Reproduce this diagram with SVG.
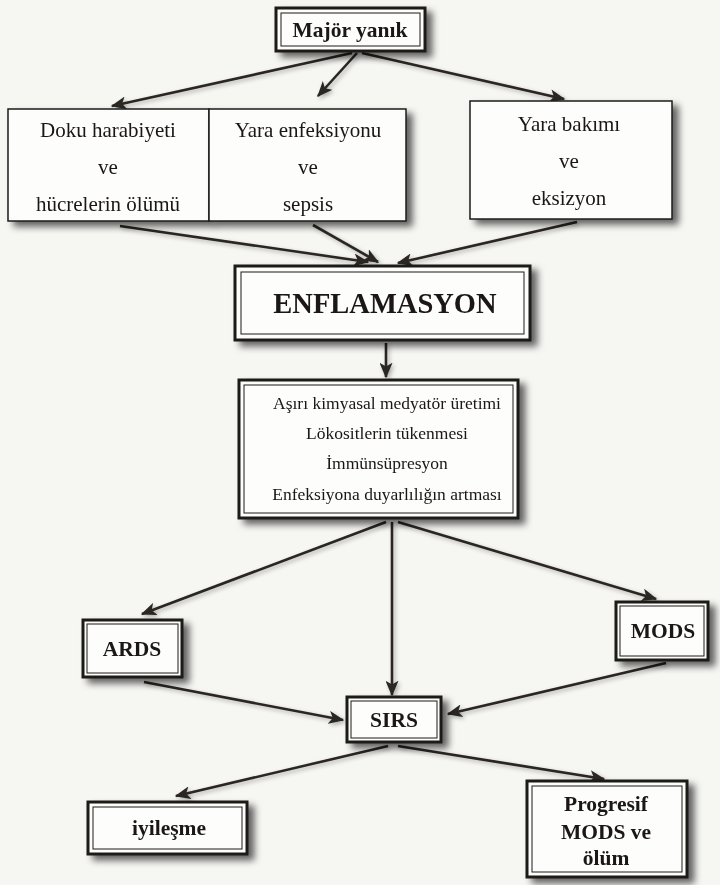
<svg xmlns="http://www.w3.org/2000/svg" width="720" height="885" viewBox="0 0 720 885">
<defs>
<filter id="sh" x="-20%" y="-20%" width="150%" height="160%">
<feGaussianBlur in="SourceAlpha" stdDeviation="3.5"/>
<feOffset dx="6" dy="5" result="b"/>
<feFlood flood-color="#000" flood-opacity="0.6"/>
<feComposite in2="b" operator="in"/>
<feMerge><feMergeNode/><feMergeNode in="SourceGraphic"/></feMerge>
</filter>
<filter id="lsh" x="-10%" y="-30%" width="120%" height="160%">
<feGaussianBlur in="SourceAlpha" stdDeviation="2"/>
<feOffset dx="2" dy="2" result="b"/>
<feFlood flood-color="#000" flood-opacity="0.3"/>
<feComposite in2="b" operator="in"/>
<feMerge><feMergeNode/><feMergeNode in="SourceGraphic"/></feMerge>
</filter>
<marker id="ah" viewBox="0 0 12 10" refX="11" refY="5" markerWidth="6" markerHeight="5" orient="auto" markerUnits="strokeWidth">
<path d="M0,0 L12,5 L0,10 L3,5 Z" fill="#2b2622"/>
</marker>
</defs>
<style>
.bx{fill:#fdfdfc;stroke:#1e1b18;stroke-width:1.5}
.ob{fill:#fdfdfc;stroke:#1e1b18;stroke-width:3}
.ib{fill:none;stroke:#1e1b18;stroke-width:1}
.t{font-family:"Liberation Serif","Times New Roman",serif;fill:#1a1714;text-anchor:middle}
.r{font-size:21px}
.s{font-size:17.5px}
.b{font-weight:bold;font-size:21.5px}
.c{stroke:#2b2622;stroke-width:2.6;fill:none;marker-end:url(#ah)}
</style>
<rect width="720" height="885" fill="#f6f6f3"/>
<g id="connectors" filter="url(#lsh)">
<line class="c" x1="352" y1="53" x2="112" y2="106"/>
<line class="c" x1="357" y1="53" x2="318" y2="96"/>
<line class="c" x1="362" y1="53" x2="564" y2="99"/>
<line class="c" x1="120" y1="226" x2="368" y2="262"/>
<line class="c" x1="313" y1="225" x2="378" y2="262"/>
<line class="c" x1="577" y1="222" x2="398" y2="263"/>
<line class="c" x1="386" y1="343" x2="386" y2="377"/>
<line class="c" x1="386" y1="522" x2="142" y2="614"/>
<line class="c" x1="392" y1="522" x2="392" y2="695"/>
<line class="c" x1="398" y1="522" x2="656" y2="599"/>
<line class="c" x1="144" y1="682" x2="343" y2="720"/>
<line class="c" x1="666" y1="663" x2="448" y2="714"/>
<line class="c" x1="388" y1="746" x2="176" y2="796"/>
<line class="c" x1="398" y1="746" x2="604" y2="779"/>
</g>
<g id="majoryanik" filter="url(#sh)">
<rect class="ob" x="276" y="8" width="149" height="43"/>
<rect class="ib" x="281" y="13" width="139" height="33"/>
<text class="t b" x="350" y="37">Majör yanık</text>
</g>
<g id="doku" filter="url(#sh)">
<rect class="bx" x="8" y="109" width="201" height="112"/>
<text class="t r" x="108" y="137">Doku harabiyeti</text>
<text class="t r" x="108" y="174">ve</text>
<text class="t r" x="108" y="211">hücrelerin ölümü</text>
</g>
<g id="enfeksiyon" filter="url(#sh)">
<rect class="bx" x="209" y="109" width="197" height="112"/>
<text class="t r" x="308" y="137">Yara enfeksiyonu</text>
<text class="t r" x="308" y="174">ve</text>
<text class="t r" x="308" y="211">sepsis</text>
</g>
<g id="bakim" filter="url(#sh)">
<rect class="bx" x="470" y="101" width="202" height="118"/>
<text class="t r" x="569" y="131">Yara bakımı</text>
<text class="t r" x="569" y="168">ve</text>
<text class="t r" x="569" y="205">eksizyon</text>
</g>
<g id="enflamasyon" filter="url(#sh)">
<rect class="ob" x="235" y="266" width="295" height="74"/>
<rect class="ib" x="241" y="272" width="283" height="62"/>
<text class="t" x="385" y="313" style="font-size:28.5px;font-weight:bold">ENFLAMASYON</text>
</g>
<g id="etkiler" filter="url(#sh)">
<rect class="ob" x="239" y="380" width="279" height="138"/>
<rect class="ib" x="244" y="385" width="269" height="128"/>
<text class="t s" x="387" y="409">Aşırı kimyasal medyatör üretimi</text>
<text class="t s" x="387" y="439">Lökositlerin tükenmesi</text>
<text class="t s" x="387" y="469">İmmünsüpresyon</text>
<text class="t s" x="387" y="500">Enfeksiyona duyarlılığın artması</text>
</g>
<g id="ards" filter="url(#sh)">
<rect class="ob" x="83" y="620" width="99" height="57"/>
<rect class="ib" x="87" y="624" width="91" height="49"/>
<text class="t b" x="132" y="656">ARDS</text>
</g>
<g id="mods" filter="url(#sh)">
<rect class="ob" x="616" y="602" width="92" height="58"/>
<rect class="ib" x="620" y="606" width="84" height="50"/>
<text class="t b" x="663" y="638">MODS</text>
</g>
<g id="sirs" filter="url(#sh)">
<rect class="ob" x="347" y="697" width="94" height="45"/>
<rect class="ib" x="351" y="701" width="86" height="37"/>
<text class="t b" x="394" y="727">SIRS</text>
</g>
<g id="iyilesme" filter="url(#sh)">
<rect class="ob" x="88" y="802" width="159" height="52"/>
<rect class="ib" x="93" y="807" width="149" height="42"/>
<text class="t b" x="169" y="835">iyileşme</text>
</g>
<g id="progresif" filter="url(#sh)">
<rect class="ob" x="527" y="781" width="160" height="96"/>
<rect class="ib" x="532" y="786" width="150" height="86"/>
<text class="t b" x="606" y="811">Progresif</text>
<text class="t b" x="606" y="839">MODS ve</text>
<text class="t b" x="606" y="865">ölüm</text>
</g>
</svg>
